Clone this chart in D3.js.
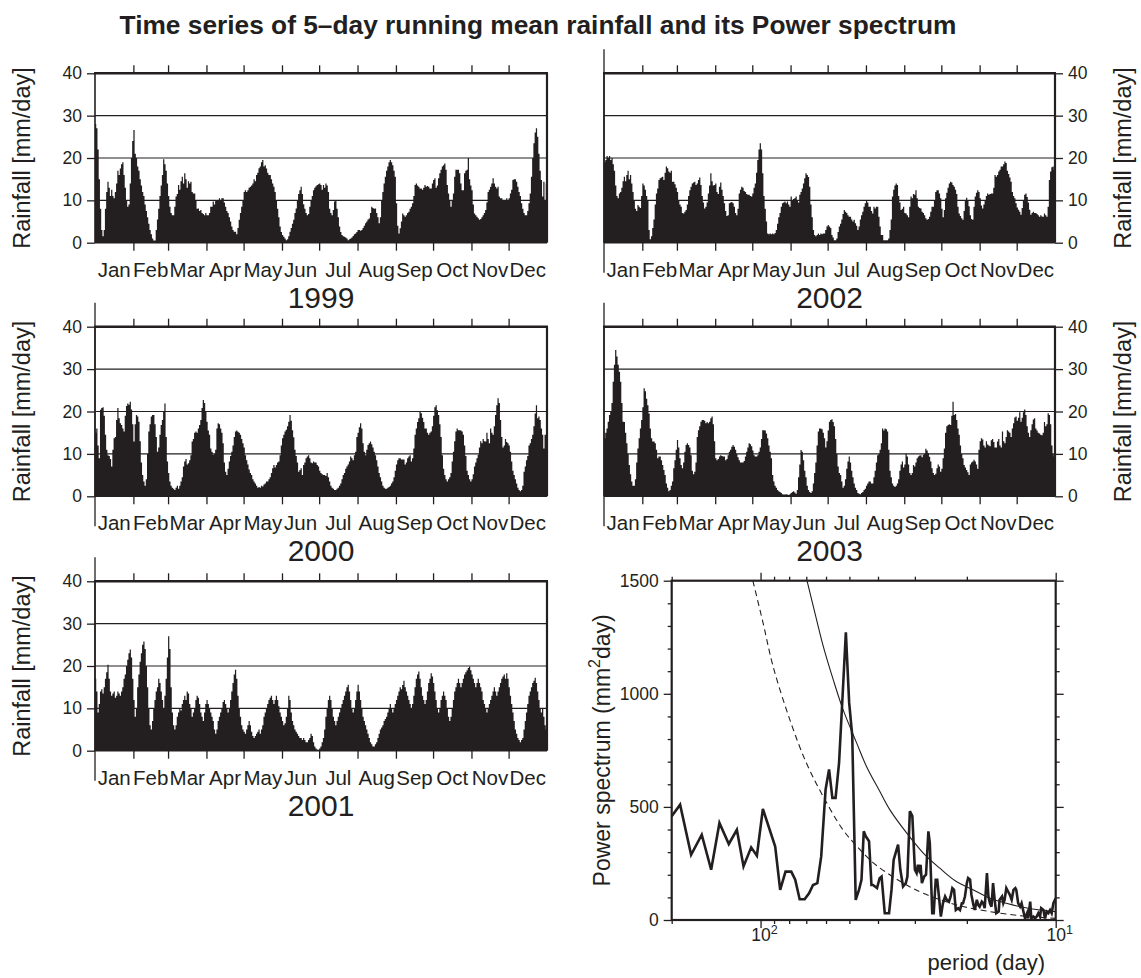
<!DOCTYPE html>
<html>
<head>
<meta charset="utf-8">
<script src="https://cdn.jsdelivr.net/npm/d3@7"></script>
<style>
  body { margin: 0; background: #fff; }
  svg { display: block; }
  text { font-family: "Liberation Sans", Arial, Helvetica, sans-serif; fill: #231f20; }
</style>
</head>
<body>
<svg id="chart" width="1141" height="978"></svg>
<script>
// ---- data -------------------------------------------------------------
const monthNames = ["Jan","Feb","Mar","Apr","May","Jun","Jul","Aug","Sep","Oct","Nov","Dec"];
const monthStarts = [0,31,59,90,120,151,181,212,243,273,304,334,365];
const rainTicks = [0,10,20,30,40];
const powerTicks = [0,500,1000,1500];

// daily 5-day running mean rainfall (mm/day), Jan 1 .. Dec 31
const rain1999 = [
28,27,22,15,8,3,1.5,3,8,12,14.4,13,11,12.5,11,10.5,12,14,17,16,17.5,18.5,19,16,13,10,8.5,9,
14,20,24,26.6,21,20,18,17,15,13.5,12,11,9,7.5,6,4.5,3,2,1,0.5,0.5,3,5.5,8,11,13.5,16,19.7,18.5,
17,14,11,8.5,7,6.5,6.5,8.5,10.9,11.5,13.6,12.5,14.5,15.6,14,16.4,15,13,14.5,14,14.4,12,11.6,11.6,10,8,
8.1,7.5,7.7,7,6.8,6.5,7,6.5,6.5,7,8.5,8.5,9.7,9,10,10,10,10.5,10,10.5,10.5,9.5,
8.5,7.5,7,6,5,3.8,3,2.6,2.6,2,3.5,5.4,7,8.5,10,12,12.4,12,12.4,13,13.2,13.5,14,15,14.5,16,16.5,
17.6,18,19,19.5,18,18.3,17.5,16.5,16,16,15,14,13.2,12,10,8,6,3.8,2.5,1.8,1.4,1,0.6,0.8,
1.5,2.6,3.5,4.5,5.4,7,8.1,10,11.5,12.4,13.2,11.5,9.1,8,7,6.5,6.8,8.5,10,11,12.4,13,13.3,13.6,13.8,14,13.6,12.5,13.6,13,
14,13.5,12,8,7,6.5,7.7,9.7,10,8,6,3.8,2.5,1.8,1.5,1.4,1.2,1,0.6,0.8,1,1.2,1.6,2,2.2,2.5,
3,3,2.8,3,3.5,4,4.6,5,5.5,5.7,7,8.5,8.2,8,8.1,7,6,4.6,6,
10,12,14,15.6,17,18,19,19.5,19,18.3,17,15.6,9.3,4,2.2,3.4,5,6.9,6.5,6.1,6.5,7,7.3,8,8.5,9.3,11,
13.6,14,13.5,13.2,12.8,12.8,12.5,13,13.6,13.2,13.4,13.2,12.8,12.8,14,
14.8,15.2,13,13.5,15.2,16.4,17.2,18,18.3,18.7,17.2,13.6,11.6,10,8.5,
10,11.6,15.6,17.2,17.2,17.2,16.4,14,12.4,12.4,16.4,17,17.2,20,15,
13.5,12.4,9,6.9,6.5,6.1,5.8,5.4,5.6,6,6.5,7,7.7,9.5,
12,12.5,13.2,14,15.2,14,13.2,12.8,13.2,10.9,10.5,10.5,10,10,
10,10.5,10,10.5,11.6,12.5,14.8,15,15,14.4,13.2,12,11,9.3,8,7,6.5,6.5,7.5,9.3,
11.6,15.6,20,23.5,26,27,25,21,17,14.8,10.9,14.4,10,14];

const rain2000 = [
15,16,12,9,20.4,20.8,21,19,14.5,11, 9.7,9.5,8.8,7,11,13.7,14,18,20.8,18.4,
17.2,16.8,16,15.3,19,21.3,21.9,21.6,22.3,20.5, 17,12.9,17,19.2,18.8,17.6,13,8,5,3.5,
2.5,4,10,15.3,17,18.8,19.2,19.2,17,14, 10.5,11.5,14.5,16.8,18,20,21.9,14,8.2,5.5,
3.5,2.5,2,1.8,1.5,2,2.5,1.8,2.5,3.5, 4.5,7,8.2,8.8,7.5,7.8,8.5,9.7,12.9,13.5,
15,15.3,15,16,16.8,18,20.8,22.7,22,20, 17.6,15.5,14.5,11.3,10.5,9.8,10,11,16,17.2,
17,16,15,12.5,8,5.8,5,6.5,8.2,9.5, 10.5,12,14,15.3,15.5,15.2,15,14.5,13.5,12.5,
11.5,9.7,8.5,7.5,6.3,5.5,5,4,3.5,3, 2.5,2,2.2,2,2.5,2.3,2.8,3,3.5,3.5,
4,4.5,5.5,6.6,7.4,6.8,7.4,8,8.2,9.7, 12,13.7,14.5,15.3,15.7,16.5,17.6,19.2,17.8,15.6,
13.9,11,9.5,8,5.8,6.2,6.6,5,7.4,8, 9,9.4,9.7,9,8,7.8,8.2,8,8,7.4,
7,6,5.5,5.2,5,5,4.8,5.5,4.5,3.5, 2.5,2,1.8,1.5,1.5,1.8,2,2.5,3,4,
5,5.5,6.5,7,7.5,8.2,9.4,9,8.5,9.7, 10.5,14,15,16.3,17.2,16,12.5,10.5,9.7,11,
12.1,12.5,12.9,12.3,11.5,10.5,9.7,8.5,7,5.5, 4.5,3.5,2.5,2,1.8,1.8,2,2.2,2.5,3,
3.5,4.5,6,7.5,8.5,9,9,8.7,8.7,8.7, 7.5,8,9,9.4,9.7,8.2,9,11.3,14.5,16,
17.5,18.4,20,19.6,18.5,17.5,16,16,15,14.5, 15,15.3,16.5,19,21,21.5,20.3,19.2,17,14,
9.7,6.5,5,4,3.5,4,4.5,5.5,8.2,10.5, 13,15.3,16,15.6,15.6,15.5,15.3,14.5,12,9.5,
6,5,4,3.5,4,5.2,7,8,9,9.8, 11.5,13,12.5,13.5,13,12.9,15,13.5,12.5,16,
15,14.5,16.5,19.2,21.5,23.1,22,18,14,11.5, 12,13.5,12.8,12.5,12,10.5,8.2,6,5,4,
3,2,1.5,1.2,1.5,2.5,5.8,7,8.5,9.5, 12,12.5,13.5,14.5,16.5,19.5,21.5,18.4,18.8,18,
16,14.5,11.3,14.5,14.5];

const rain2001 = [
17,14,9,11,14,14.5,13.5,15,17,18.5, 20.3,17,14,13,13.5,14,12.5,13,14,13.5,
13,14,15,17,18,20,21.5,23,23.9,22, 17,12,8,10,15,18,21,23,25,25.8,
24,20,15,10,6,5,7,10,12,14, 15,17,16,14,12,10,13,17,22,27,
24,15,9,6,5,6,8,9,10,9.5, 11,12,13,12,14,13.5,11,10,8,9,
10,12,13,12.5,11,9,8,7,9,11, 12,11,10,9,8,7,5,4,5,7,
8,9,10,11.5,12,11,10,9,10,12, 14,16,18,19.1,17,13,10,8,6,5,
4.5,4,5,6,7,6,4.5,3.5,3,3.5, 4,4.5,5,4,5,6,8,9,10,11,
12,12.5,13,12,11,12,13,12,10.5,9, 8,7,6,6.5,8,10,13,12,9,7,
6,5,4.5,4,3.5,3,3,2.5,3,2.5, 2,2,2.5,3,4,3.5,2,1,0.5,0.3,
0.2,0.5,1,2,3,5,8,10,12,13, 12,10,8,7,6,7,8,9,10,11,
12,13,14,15,15.6,14,12,10,9,10, 12,14,15.6,14,12,10,8,7,6,5,
4,3,2,1.5,1,1,1.5,2,3,4, 5,5.5,6,7,7.5,8,9,10,11,10,
9,10,11,12,13,14,15,14.5,15.5,16.5, 15,14,13,12,11,10,11,13,15,17,
18,18.7,17,15,13,12,11,12,14,16, 17,18.3,17.5,16,14,12,10,9,10,12,
13,14,13,12,10,8,7,8,10,12, 14,15,16,17,16,15,16,17,18,18.5,
19,19.5,19.9,19,18,17,16,15,16,17, 16,15,14,12,11,10,9,10,11,12,
13,14,15,14,13,14,15,16,17,17.5, 18,17,18.3,17,15,13,11,9,7,5,
4,3,2.5,2,2.5,3,5,7,9,11, 13,14,15,16,16.5,17.2,16,14,12,10,
9,10,8,6,5];

const rain2002 = [
19,19.5,20.5,20,20.5,19.5,20,18.5,17,13.5, 11,10.5,11.6,12,13,14.5,15.6,14.5,16,17,
15,16,14,12,10,8,7.5,8.9,8.5,8.2, 11,14,13.5,12.5,11,10,3,0.8,1.5,3.5,
5.5,9,11.6,12.8,14.8,15.2,15.4,15.6,14.8,16.5, 18,17.6,16.8,16.5,17,14.4,14.4,13.8,13,12,
10,9,8.5,7,6.9,7.3,7.7,9,11,12.4, 13.2,14,14.2,14.4,13.6,14,14.8,15.4,13.6,11,
9.5,8.1,8.5,9.5,11.6,13.5,16.4,14.5,13.5,13.6, 14,12,11.5,13.2,14.2,12.5,11,9.3,7.5,6.3,
6.5,9.3,9.5,9.6,9.3,8.5,7,6.5,8,11.6, 12.5,13.2,13,12.2,12,11.5,11.3,11.3,11,10.9,
11.6,13,14,16.5,19.5,22,23.5,22,16.4,11, 8,5,2.2,2,2.2,2,2.2,2,2.3,3,
4.5,6,7,8.5,9.3,9.5,9.7,9.3,9.7,9, 8.5,10.9,10,10.3,10.5,10.9,10,9.5,11.3,12,
12.8,14,15.2,16.4,16,15.5,13.2,9,6,3, 1.8,1.5,1.8,2.2,1.8,2.2,2,2.2,2.2,3,
3.8,4.2,3.8,3.5,1.8,1.2,0.6,0.6,1,2.5, 3.8,4.5,5.5,6.8,7.7,7.3,7,6.5,6.1,6.1,
5.5,5,5.4,4.6,4,3,3.8,5.5,6.5,7.3, 8.5,9.3,10,9.5,8.5,8.5,7.5,6.9,8.5,8.1,
8.5,8.5,6.1,3.8,1.8,1.8,0.6,0.6,0.6,0.6, 1,3,5.5,10.9,12.5,13.5,14,13.6,11,9.5,
7.7,8,8.5,7,6.9,6.5,6,8.5,10.9,10.5, 11.5,11.3,12.4,10.5,8.5,8.2,8.1,7.3,7,6.5,
5.8,5.4,5.6,6.1,7.3,8.5,8.5,10,12,12.4, 12.4,11.6,10.5,8,6,7.7,10.5,11.8,13,14,
14.4,14.2,13.6,13.2,12.5,11.5,8.5,6.9,6.3,5.8, 5.4,7.5,10,10.6,10,8.6,6.5,5.6,5.4,8.5,
10.9,11.8,12.4,12,10.5,8.8,8.1,9,10,11, 11.6,11.3,11.5,11.6,11.6,13,16,15.6,16,16.8,
17.2,18,18,18.5,19.2,18.8,17,16.2,15.4,14.4, 12,11,10.5,9.3,8.3,7.8,7.3,6.6,8.2,10,
11.3,11.6,10.8,9.5,7.8,6.6,7,7.3,7,7, 6.8,6.5,6.1,6.5,6.2,6.1,6.9,6.5,6.1,8.5,
14.8,16.8,17.8,18,17.2];

const rain2003 = [
13.7,15,16,17.6,19.2,20,22,27,31,34.5, 33,31,29.4,27,22,17.6,17.5,15,12.5,10,
7.4,5.2,3.5,2.5,2.5,4,8,11.3,13.7,16, 18,21,25.5,24.8,23,21.5,19.5,16,13.7,12.9,
12.9,12.5,11,9,9.4,9.4,8.5,7.4,6.2,5, 3,2,1.2,1.5,2.5,3.5,6.6,8.5,11,13.3,
11.5,9,7.4,6.6,8,10.5,12.1,12.5,12.1,11.5, 9.7,6,5.2,5.8,8,14,15.6,16.5,17.6,18,
18,17.8,17.2,17.5,17.2,17.6,18.4,18.8,17,13, 9,8.5,8.8,9.4,9.7,9.5,9.4,9.4,8.5,8.8,
9.7,10.5,11,11.7,12.1,11.7,11,10,9.2,8.5, 8,8,8,8.3,9.4,10.5,11.5,12.5,12.3,11.8,
10.8,9.7,9.4,9.4,9.7,10.5,11.5,13.5,15.6,15.6, 15.5,14.8,13.7,12,10.5,9,5,3.5,2.5,2,
1.5,1.2,1,0.8,0.5,0.4,0.4,0.5,0.4,0.3, 0.5,0.8,1,1.2,0.9,0.6,1.5,4.5,7.5,10.9,
10.5,8.5,6,4.5,2.5,1.5,1,0.8,1.2,3, 5.5,8,12,15.3,16,16,15.8,15,13.7,11.5,
13,15.5,17.6,18,18.2,17.5,16.5,13.5,10,7, 5.5,5,3.5,2,2.5,4,6.5,8.2,9.4,8,
6,4.5,3,2,1.5,0.8,0.6,0.5,0.8,1, 1.5,1.8,2.5,3,3.5,3.5,3,3,4.5,6,
8,9.7,10,11,12.5,16,15.5,16,15.8,15.3, 11,6,4.5,3,2.5,2.2,2.5,3,4,6,
7.5,8.2,6.8,7.5,10.1,9.4,7.5,5.5,5,5.5, 7.4,7,8,9,9.4,9.6,9.7,9.2,9.8,10,
11.2,10.8,10.2,9.3,8.2,6.6,5.5,5,5.3,6.6, 7.5,7,5.8,6.5,9,11.3,15,16.5,16.8,17,
16.8,19,22.3,19.2,19.4,18,16,14.5,12,10, 9,7.4,6.8,6.2,5.7,5,7.5,8,8.2,8.6,
8.2,7.5,6.5,11,13,13.7,13.4,12,11.5,13, 12.2,12,11.8,13.2,13.5,12.8,11.5,11.5,12.9,13.5,
12,11.5,15.3,13,12.5,14,15.6,15.3,15,14, 16,17.2,18.6,18.8,17.8,18.5,19.8,17.6,18.5,19.8,
20.5,19.2,16.5,15,14,15.6,17,18.1,18.4,16, 15.5,15,14.8,14.5,14.4,15,17.5,16.5,17,19.6,
19.2,17,12,10,9.4];

// power spectrum of the five-year record: period (day) and power (mm^2 day)
const specPeriod = [
200,187.3,171.9,158.2,147,137.8,128.1,120.3,114.2,107.6,
102.9,98.2,89.2,85.8,82.3,78.7,76.3,73.7,70.9,68.5,
66.4,64.2,62.3,60.2,58.6,57.1,55.7,54.2,52.8,51.4,
50.1,48.9,47.6,46.4,45.5,44.7,44.0,42.9,42.1,41.6,
40.3,39.5,38.9,37.95,36.7,36.0,35.4,34.2,33.6,32.9,
32.2,31.8,31.2,30.6,30.0,29.6,29.3,29.0,28.7,28.4,
27.9,27.5,27.0,26.7,26.2,25.9,25.5,25.2,24.8,24.5,
24.1,23.7,23.4,23.0,22.7,22.4,22.1,21.8,21.4,21.1,
20.8,20.6,20.3,20.0,19.8,19.5,19.3,19.0,18.8,18.5,
18.3,18.1,17.8,17.6,17.4,17.1,16.9,16.7,16.5,16.3,
16.1,15.9,15.6,15.5,15.2,15.05,14.9,14.7,14.5,14.3,
14.1,13.9,13.7,13.6,13.4,13.2,13.05,12.9,12.7,12.5,
12.4,12.2,12.1,11.9,11.75,11.6,11.45,11.3,11.2,11.0,
10.87,10.73,10.59,10.45,10.32,10.18,10.0];
const specPower = [
459,510,288,377,222,429,336,399,237,321,
284,491,325,133,214,214,178,92,92,118,
155,163,281,577,666,540,540,695,976,1272,
962,814,89,133,178,392,370,348,155,155,
141,185,192,30,30,133,266,333,222,148,
163,192,481,459,222,207,244,222,244,163,
192,200,392,340,30,30,178,178,89,15,
74,104,89,81,104,141,133,44,52,44,
74,74,104,163,185,178,111,67,44,89,
67,59,81,74,52,207,104,74,59,163,
89,30,37,89,104,74,89,141,126,111,
89,133,141,133,74,59,74,44,7,30,
7,81,7,15,7,15,30,15,52,44,
7,37,30,44,30,74,96];

// reference spectra (solid and dashed curves)
const solidPeriod = [69.6,64.7,61.4,56.8,52.6,47.3,43.8,39.5,36.5,32.0,28.1,24.7,21.7,19.0,16.7,14.7,12.9,11.3,10.0];
const solidPower  = [1500,1331,1213,1065,932,784,680,570,488,385,296,229,170,133,96,74,56,44,37];
const dashPeriod  = [106.2,98.2,90.8,79.7,70.0,61.4,52.6,47.3,41.6,36.5,32.0,28.1,21.7,16.7,12.9,10.0];
const dashPower   = [1500,1317,1124,888,695,547,399,328,254,200,155,118,67,37,18,7];

// ---- drawing ----------------------------------------------------------
const ink = "#231f20";
const fontFamily = '"Liberation Sans", Arial, Helvetica, sans-serif';
const svg = d3.select("#chart");

svg.append("text")
  .attr("x", 538).attr("y", 34)
  .attr("text-anchor", "middle")
  .attr("font-size", 26.3).attr("font-weight", "bold")
  .text("Time series of 5\u2013day running mean rainfall and its Power spectrum");

const panels = [
  {year: 1999, data: rain1999, left: 95,  right: 547,  top: 73.3,  bottom: 242.7, side: "left",  stub: false},
  {year: 2002, data: rain2002, left: 604, right: 1055, top: 73.3,  bottom: 242.7, side: "right", stub: true},
  {year: 2000, data: rain2000, left: 95,  right: 547,  top: 326.7, bottom: 496.3, side: "left",  stub: true},
  {year: 2003, data: rain2003, left: 604, right: 1055, top: 326.7, bottom: 496.3, side: "right", stub: true},
  {year: 2001, data: rain2001, left: 95,  right: 547,  top: 581.3, bottom: 750.7, side: "left",  stub: true}
];

function styleAxis(g, size) {
  g.attr("font-family", fontFamily).attr("font-size", size).style("color", ink);
  g.select(".domain").remove();
  g.selectAll(".tick line").attr("stroke-width", 1.3);
}

panels.forEach((p, idx) => {
  const x = d3.scaleLinear().domain([0, 365]).range([p.left, p.right]);
  const y = d3.scaleLinear().domain([0, 40]).range([p.bottom, p.top]);
  const g = svg.append("g");

  g.append("clipPath").attr("id", "clip" + idx)
    .append("rect").attr("x", p.left).attr("y", p.top)
    .attr("width", p.right - p.left).attr("height", p.bottom - p.top);

  // horizontal grid
  g.selectAll(".grid").data([10, 20, 30]).join("line")
    .attr("x1", p.left).attr("x2", p.right)
    .attr("y1", d => y(d)).attr("y2", d => y(d))
    .attr("stroke", ink).attr("stroke-width", 1.2);

  // daily bars, drawn as one stepped silhouette (each day spans [i, i+1])
  const days = p.data.map((v, i) => [i, v]).concat([[p.data.length, p.data[p.data.length - 1]]]);
  const bars = d3.area()
    .x(d => x(d[0])).y0(y(0)).y1(d => y(d[1]))
    .curve(d3.curveStepAfter);
  g.append("path").attr("clip-path", `url(#clip${idx})`)
    .attr("d", bars(days)).attr("fill", ink);

  // frame
  g.append("line").attr("x1", p.left - 1).attr("x2", p.right + 1).attr("y1", p.top).attr("y2", p.top)
    .attr("stroke", ink).attr("stroke-width", 2.6);
  g.append("line").attr("x1", p.left).attr("x2", p.right).attr("y1", p.bottom).attr("y2", p.bottom)
    .attr("stroke", ink).attr("stroke-width", 1.4);
  g.append("line").attr("x1", p.left).attr("x2", p.left).attr("y1", p.top).attr("y2", p.bottom)
    .attr("stroke", ink).attr("stroke-width", 1.6);
  g.append("line").attr("x1", p.right).attr("x2", p.right).attr("y1", p.top).attr("y2", p.bottom)
    .attr("stroke", ink).attr("stroke-width", 2.2);
  if (p.stub) {
    g.append("line").attr("x1", p.left).attr("x2", p.left)
      .attr("y1", p.top - 24).attr("y2", p.bottom + 30)
      .attr("stroke", ink).attr("stroke-width", 1.3);
  }

  // month ticks
  const monthTickVals = monthStarts.slice(1, 12);
  const gTop = g.append("g").attr("transform", `translate(0,${p.top})`)
    .call(d3.axisTop(x).tickValues(monthTickVals).tickSize(8).tickFormat(""));
  styleAxis(gTop, 16);
  const gBot = g.append("g").attr("transform", `translate(0,${p.bottom})`)
    .call(d3.axisBottom(x).tickValues(monthTickVals).tickSize(8).tickFormat(""));
  styleAxis(gBot, 16);

  // month names, centred in each month
  g.selectAll(".mlab").data(monthNames).join("text")
    .attr("x", (d, i) => x((monthStarts[i] + monthStarts[i + 1]) / 2))
    .attr("y", p.bottom + 34)
    .attr("text-anchor", "middle").attr("font-size", 20.5)
    .text(d => d);

  // year
  g.append("text").attr("x", (p.left + p.right) / 2).attr("y", p.bottom + 65)
    .attr("text-anchor", "middle").attr("font-size", 30).text(p.year);

  // rainfall axis and title
  const axisX = p.side === "left" ? p.left : p.right;
  const yAxis = (p.side === "left" ? d3.axisLeft(y) : d3.axisRight(y))
    .tickValues(rainTicks).tickSize(8).tickPadding(5);
  const gY = g.append("g").attr("transform", `translate(${axisX},0)`).call(yAxis);
  styleAxis(gY, 17.5);
  const labX = p.side === "left" ? 22 : 1123;
  g.append("text")
    .attr("transform", `translate(${labX},${(p.top + p.bottom) / 2}) rotate(-90)`)
    .attr("text-anchor", "middle").attr("dominant-baseline", "central")
    .attr("font-size", 23.5).text("Rainfall [mm/day]");
});

// ---- power spectrum ---------------------------------------------------
const sp = {left: 671.7, right: 1055.7, top: 580.7, bottom: 920};
const sx = d3.scaleLog().domain([200, 10]).range([sp.left, sp.right]);
const sy = d3.scaleLinear().domain([0, 1500]).range([sp.bottom, sp.top]);
const gs = svg.append("g");

gs.append("clipPath").attr("id", "clipSpec")
  .append("rect").attr("x", sp.left).attr("y", sp.top)
  .attr("width", sp.right - sp.left).attr("height", sp.bottom - sp.top);

const plot = gs.append("g").attr("clip-path", "url(#clipSpec)");
const smooth = d3.line().curve(d3.curveCatmullRom.alpha(0.5));

plot.append("path")
  .attr("d", smooth(dashPeriod.map((p, i) => [sx(p), sy(dashPower[i])])))
  .attr("fill", "none").attr("stroke", ink).attr("stroke-width", 1.1)
  .attr("stroke-dasharray", "6,4");
plot.append("path")
  .attr("d", smooth(solidPeriod.map((p, i) => [sx(p), sy(solidPower[i])])))
  .attr("fill", "none").attr("stroke", ink).attr("stroke-width", 1.1);
plot.append("path")
  .attr("d", d3.line()(specPeriod.map((p, i) => [sx(p), sy(specPower[i])])))
  .attr("fill", "none").attr("stroke", ink).attr("stroke-width", 2.6)
  .attr("stroke-linejoin", "miter");

gs.append("rect").attr("x", sp.left).attr("y", sp.top)
  .attr("width", sp.right - sp.left).attr("height", sp.bottom - sp.top)
  .attr("fill", "none").attr("stroke", ink).attr("stroke-width", 2.2);

const minorPower = d3.range(100, 1500, 100).filter(v => v % 500 !== 0);
const majorPeriod = [100, 10];
const minorPeriod = [200, 90, 80, 70, 60, 50, 40, 30, 20];

function specAxis(axisFn, vals, size, transform, labels) {
  const a = axisFn.tickValues(vals).tickSize(size).tickPadding(5);
  a.tickFormat(labels ? d3.format("d") : "");
  const g = gs.append("g").attr("transform", transform).call(a);
  styleAxis(g, 17.5);
  return g;
}
specAxis(d3.axisLeft(sy), powerTicks, 8, `translate(${sp.left},0)`, true);
specAxis(d3.axisLeft(sy), minorPower, 4, `translate(${sp.left},0)`, false);
specAxis(d3.axisRight(sy), powerTicks, 8, `translate(${sp.right},0)`, false);
specAxis(d3.axisRight(sy), minorPower, 4, `translate(${sp.right},0)`, false);
specAxis(d3.axisBottom(sx), majorPeriod, 8, `translate(0,${sp.bottom})`, false);
specAxis(d3.axisBottom(sx), minorPeriod, 4, `translate(0,${sp.bottom})`, false);
specAxis(d3.axisTop(sx), majorPeriod, 8, `translate(0,${sp.top})`, false);
specAxis(d3.axisTop(sx), minorPeriod, 4, `translate(0,${sp.top})`, false);

// powers of ten under the period axis
const expLabels = gs.selectAll(".exp").data(majorPeriod).join("text")
  .attr("x", d => sx(d) + 4).attr("y", sp.bottom + 21)
  .attr("text-anchor", "middle").attr("font-size", 17.5);
expLabels.append("tspan").text("10");
expLabels.append("tspan").attr("dy", -7).attr("font-size", 12.5).text(d => Math.round(Math.log10(d)));

gs.append("text").attr("x", 1045).attr("y", 970)
  .attr("text-anchor", "end").attr("font-size", 22).text("period (day)");

const yTitle = gs.append("text")
  .attr("transform", `translate(602,${(sp.top + sp.bottom) / 2}) rotate(-90)`)
  .attr("text-anchor", "middle").attr("dominant-baseline", "central")
  .attr("font-size", 23);
yTitle.append("tspan").text("Power spectrum (mm");
yTitle.append("tspan").attr("dy", -8).attr("font-size", 16).text("2");
yTitle.append("tspan").attr("dy", 8).text("day)");
</script>
</body>
</html>
